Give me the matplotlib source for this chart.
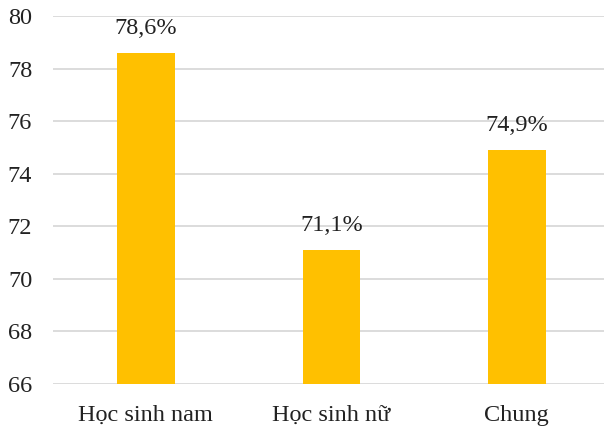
import matplotlib.pyplot as plt

categories = ["Học sinh nam", "Học sinh nữ", "Chung"]
values = [78.6, 71.1, 74.9]
value_labels = ["78,6%", "71,1%", "74,9%"]
y_ticks = [66, 68, 70, 72, 74, 76, 78, 80]

plt.rcParams["font.family"] = ["Liberation Serif", "DejaVu Serif"]
plt.rcParams["font.size"] = 17.5

fig = plt.figure(figsize=(6.04, 4.28), dpi=100)
ax = fig.add_axes([53 / 604, 44 / 428, 551 / 604, 368 / 428])

x = range(len(categories))
bars = ax.bar(x, values, width=0.31, color="#FFC000", zorder=3)

# value labels above each bar
for bar, text in zip(bars, value_labels):
    ax.annotate(text, xy=(bar.get_x() + bar.get_width() / 2, bar.get_height()),
                xytext=(0, 10), textcoords="offset points",
                ha="center", va="bottom", color="#222222")

ax.set_xlim(-0.5, 2.47)
ax.set_ylim(66, 80)
ax.set_yticks(y_ticks)
ax.set_xticks(list(x))
ax.set_xticklabels(categories)
ax.yaxis.grid(True, color="#d9d9d9", linewidth=1.3, zorder=0)
ax.tick_params(axis="both", length=0, colors="#222222")
ax.tick_params(axis="y", pad=15)
ax.tick_params(axis="x", pad=15)
for spine in ax.spines.values():
    spine.set_visible(False)

fig.savefig("out.png", dpi=100)
